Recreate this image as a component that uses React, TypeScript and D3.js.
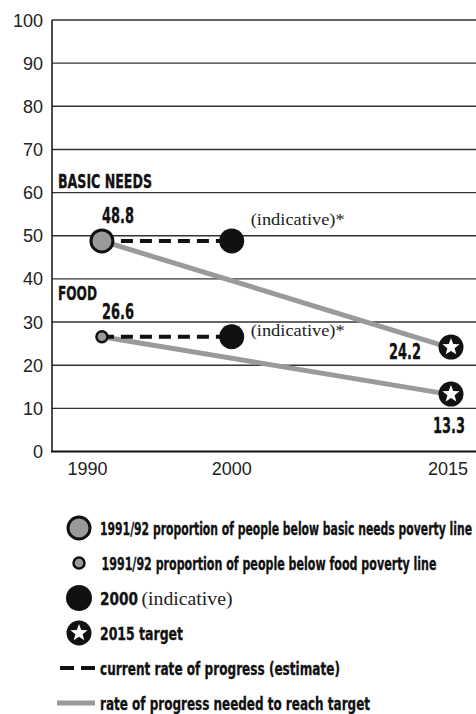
import React from "react";
import * as d3 from "d3";

// Chart values
const years = [1991, 2000, 2015];
const basicNeeds = [48.8, 48.8, 24.2];
const food = [26.6, 26.6, 13.3];
const yTicks = [0, 10, 20, 30, 40, 50, 60, 70, 80, 90, 100];
const xTicks = [1990, 2000, 2015];

const legendItems = [
    "1991/92 proportion of people below basic needs poverty line",
    "1991/92 proportion of people below food poverty line",
    "2000",
    "2015 target",
    "current rate of progress (estimate)",
    "rate of progress needed to reach target",
];

const WIDTH = 476;
const HEIGHT = 714;
const GRAY = "#9a9a9a";
const BOLD = "'Liberation Sans Narrow', 'DejaVu Sans Condensed', sans-serif";
const SANS = "'Liberation Sans', Arial, sans-serif";
const SERIF = "'Liberation Serif', 'DejaVu Serif', serif";

const x = d3.scaleLinear().domain([1990, 2015]).range([87.5, 448]);
const y = d3.scaleLinear().domain([0, 100]).range([451.5, 20]);

const starPath = (outer: number, inner: number): string => {
    const pts: [number, number][] = d3.range(10).map((i) => {
        const r = i % 2 === 0 ? outer : inner;
        return [(Math.PI / 5) * i, r];
    });
    return d3.lineRadial().curve(d3.curveLinearClosed)(pts) ?? "";
};

const Star = ({ cx, cy }: { cx: number; cy: number }) => (
    <g transform={`translate(${cx},${cy})`}>
        <circle r={12.5} fill="#111" />
        <path d={starPath(9, 3.8)} fill="#fff" />
    </g>
);

const BoldText = (props: { x: number; y: number; w: number; size: number; anchor?: string; children: string }) => (
    <text
        x={props.x}
        y={props.y}
        fontFamily={BOLD}
        fontWeight="bold"
        fontSize={props.size}
        textAnchor={props.anchor ?? "start"}
        textLength={props.w}
        lengthAdjust="spacingAndGlyphs"
        fill="#111"
        stroke="#111"
        strokeWidth={0.3}
    >
        {props.children}
    </text>
);

const Series = ({ values, big }: { values: number[]; big: boolean }) => {
    const [x0, x1, x2] = years.map((yr) => x(yr));
    const [y0, y1, y2] = values.map((v) => y(v));
    return (
        <g>
            <line x1={x0} y1={y0} x2={x2} y2={y2} stroke={GRAY} strokeWidth={5} />
            <line x1={x0} y1={y0} x2={x1} y2={y1} stroke="#111" strokeWidth={4} strokeDasharray="12 7" />
            {big
                ? <circle cx={x0} cy={y0} r={11} fill={GRAY} stroke="#111" strokeWidth={3} />
                : <circle cx={x0} cy={y0} r={5.5} fill={GRAY} stroke="#111" strokeWidth={2.5} />}
            <circle cx={x1} cy={y1} r={12.5} fill="#111" />
            <Star cx={x2 + 3} cy={y2} />
            <text x={x1 + 19} y={y1 - 16 + (big ? 0 : 15)} fontFamily={SERIF} fontSize={17} fill="#222"
                textLength={94} lengthAdjust="spacingAndGlyphs">(indicative)*</text>
        </g>
    );
};

export default function App() {
    const legendY = (i: number) => 528 + i * 35;

    return (
        <div style={{ position: "absolute", left: 0, top: 0 }}>
            <svg width={WIDTH} height={HEIGHT} style={{ display: "block", background: "#fff" }}>
                {/* grid */}
                {yTicks.map((t) => (
                    <g key={t}>
                        {t > 0 && <line x1={52} x2={WIDTH} y1={y(t)} y2={y(t)} stroke="#333" strokeWidth={1.4} />}
                        <text x={43} y={y(t) + 6.5} textAnchor="end" fontFamily={SANS} fontSize={18} fill="#222">{t}</text>
                    </g>
                ))}
                <line x1={52} x2={52} y1={y(100)} y2={y(0)} stroke="#111" strokeWidth={1.5} />
                <line x1={51} x2={WIDTH} y1={y(0)} y2={y(0)} stroke="#111" strokeWidth={2} />
                {xTicks.map((t) => (
                    <text key={t} x={x(t)} y={475} textAnchor="middle" fontFamily={SANS} fontSize={18} fill="#222">{t}</text>
                ))}

                <Series values={basicNeeds} big={true} />
                <Series values={food} big={false} />

                {/* labels */}
                <BoldText x={58} y={188} w={94} size={20}>BASIC NEEDS</BoldText>
                <BoldText x={x(years[0]) + 16} y={223} w={32} size={22} anchor="middle">{String(basicNeeds[0])}</BoldText>
                <BoldText x={58} y={300} w={39} size={20}>FOOD</BoldText>
                <BoldText x={x(years[0]) + 16} y={319} w={32} size={22} anchor="middle">{String(food[0])}</BoldText>
                <BoldText x={421} y={y(basicNeeds[2]) + 12} w={32} size={22} anchor="end">{String(basicNeeds[2])}</BoldText>
                <BoldText x={449} y={433} w={32} size={22} anchor="middle">{String(food[2])}</BoldText>

                {/* legend */}
                <g>
                    <circle cx={79} cy={legendY(0)} r={11} fill={GRAY} stroke="#111" strokeWidth={3} />
                    <circle cx={79} cy={legendY(1)} r={5.5} fill={GRAY} stroke="#111" strokeWidth={2.5} />
                    <circle cx={79} cy={legendY(2)} r={13} fill="#111" />
                    <Star cx={79} cy={legendY(3)} />
                    <line x1={60} x2={95} y1={legendY(4)} y2={legendY(4)} stroke="#111" strokeWidth={4} strokeDasharray="14 7" />
                    <line x1={57} x2={95} y1={legendY(5)} y2={legendY(5)} stroke={GRAY} strokeWidth={5} />

                    <BoldText x={100} y={legendY(0) + 7} w={372} size={18}>{legendItems[0]}</BoldText>
                    <BoldText x={101.5} y={legendY(1) + 7} w={335} size={18}>{legendItems[1]}</BoldText>
                    <BoldText x={100} y={legendY(2) + 7} w={38} size={18}>{legendItems[2]}</BoldText>
                    <text x={141.5} y={legendY(2) + 7} fontFamily={SERIF} fontSize={18} fill="#222"
                        textLength={91} lengthAdjust="spacingAndGlyphs">(indicative)</text>
                    <BoldText x={100} y={legendY(3) + 7} w={83} size={18}>{legendItems[3]}</BoldText>
                    <BoldText x={100} y={legendY(4) + 7} w={240} size={18}>{legendItems[4]}</BoldText>
                    <BoldText x={100} y={legendY(5) + 7} w={270} size={18}>{legendItems[5]}</BoldText>
                </g>
            </svg>
        </div>
    );
}
